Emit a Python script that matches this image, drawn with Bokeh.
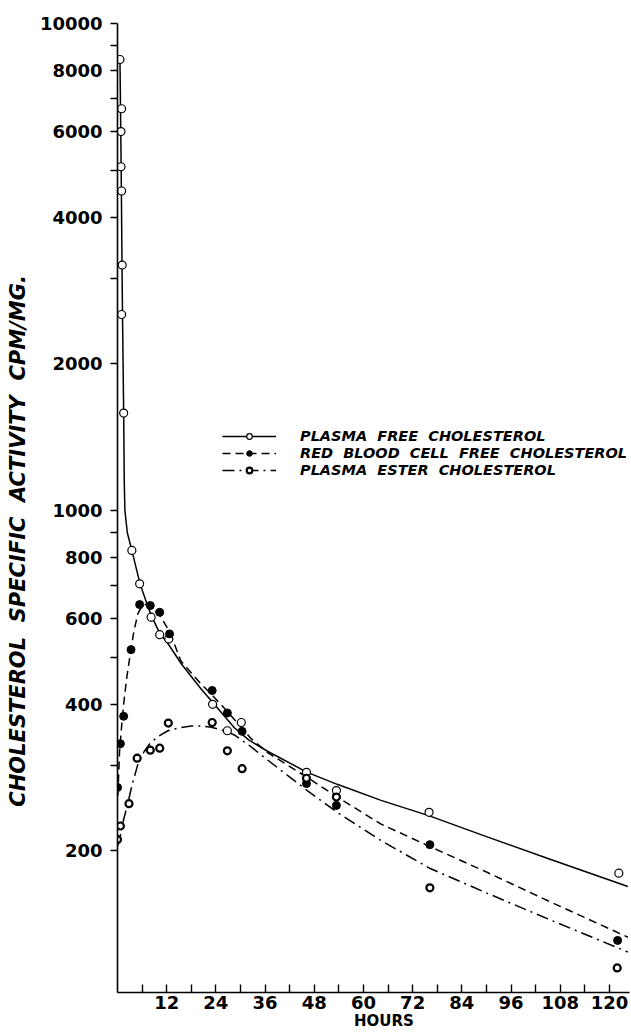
import math
from bokeh.plotting import figure
from bokeh.models import (Range1d, FixedTicker, PrintfTickFormatter,
                          Legend, LegendItem)
from bokeh.embed import file_html
from bokeh.resources import INLINE

# ---------------- data ----------------
x_ticks = [12, 24, 36, 48, 60, 72, 84, 96, 108, 120]
x_minor = [6, 18, 30, 42, 54, 66, 78, 90, 102, 114]
y_ticks = [200, 400, 600, 800, 1000, 2000, 4000, 6000, 8000, 10000]
y_minor = [300, 500, 700, 900, 3000, 5000, 7000, 9000]

# plasma free cholesterol (open circles)
pf_hours = [0.6, 1.0, 0.85, 0.85, 1.0, 1.15, 1.0, 1.5, 3.5, 5.4, 8.2, 10.3,
            12.5, 23.2, 26.8, 30.2, 46.1, 53.4, 76.0, 122.3]
pf_values = [8435, 6683, 6000, 5080, 4530, 3192, 2526, 1585, 828, 707, 604,
             556, 545, 400, 353, 367, 290, 266, 240, 180]

# red blood cell free cholesterol (filled circles)
rbc_hours = [0.0, 0.7, 1.5, 3.3, 5.4, 8.0, 10.3, 12.7, 23.1, 26.8, 30.4,
             46.1, 53.4, 76.2, 122.0]
rbc_values = [270, 332, 378, 518, 641, 638, 618, 558, 427, 384, 352, 275,
              248, 206, 131]

# plasma ester cholesterol (half circles)
pe_hours = [0.0, 0.7, 2.8, 4.8, 8.0, 10.3, 12.4, 23.1, 26.8, 30.4, 46.1,
            53.4, 76.2, 121.9]
pe_values = [211, 225, 250, 310, 322, 325, 366, 367, 321, 295, 282, 258,
             168, 115]

# fitted curves, as drawn
pf_curve_hours = [0.6, 0.8, 0.95, 1.1, 1.25, 1.5, 1.65, 1.8, 2.4, 3.5, 4.5,
                  5.5, 7.0, 8.2, 10.3, 12.5, 15.6, 20.4, 23.3, 28.5, 32.0,
                  36.7, 46.3, 53.6, 64.3, 76.1, 90.0, 105.0, 124.5]
pf_curve_values = [8435, 6000, 4500, 3200, 2400, 1600, 1150, 1000, 900, 828,
                   765, 707, 650, 610, 560, 530, 484, 430, 403, 358, 338,
                   320, 290, 274, 254, 236, 214, 193, 169]

rbc_curve_hours = [0.1, 0.5, 1.0, 1.5, 2.2, 3.0, 4.0, 5.0, 6.0, 7.0, 8.0,
                   10.3, 12.9, 15.4, 20.2, 23.3, 27.0, 32.6, 36.7, 46.3,
                   53.6, 64.3, 76.3, 90.0, 105.0, 124.5]
rbc_curve_values = [260, 320, 360, 400, 450, 500, 565, 615, 638, 642, 635,
                    610, 560, 492, 442, 416, 385, 340, 318, 283, 258, 227,
                    204, 181, 158, 133]

pe_curve_hours = [0.1, 0.6, 1.5, 2.5, 3.5, 5.0, 6.5, 8.0, 10.0, 12.3, 15.0,
                  18.0, 20.4, 22.9, 26.5, 28.5, 32.0, 36.7, 46.3, 53.6, 64.3,
                  76.3, 90.0, 105.0, 124.5]
pe_curve_values = [205, 213, 232, 250, 272, 302, 320, 333, 344, 353, 358,
                   361, 361, 359, 352, 346, 330, 307, 266, 240, 210, 184,
                   164, 145, 124]

labels = ["PLASMA  FREE  CHOLESTEROL",
          "RED  BLOOD  CELL  FREE  CHOLESTEROL",
          "PLASMA  ESTER  CHOLESTEROL"]
y_words = ["CHOLESTEROL", "SPECIFIC", "ACTIVITY", "CPM/MG."]
x_title = "HOURS"

# ---------------- figure ----------------
p = figure(width=631, height=1034, y_axis_type="log",
           x_range=Range1d(0, 124.9), y_range=Range1d(102.4, 10000),
           output_backend="svg", toolbar_location=None,
           min_border_left=117, min_border_right=2,
           min_border_top=23, min_border_bottom=42)
p.outline_line_color = None
p.xgrid.visible = False
p.ygrid.visible = False
p.background_fill_color = "white"
p.border_fill_color = "white"

TICK_FONT = "DejaVu Sans"
for ax in (p.xaxis[0], p.yaxis[0]):
    ax.axis_line_color = "black"
    ax.axis_line_width = 1.6
    ax.major_tick_line_color = "black"
    ax.minor_tick_line_color = "black"
    ax.major_tick_line_width = 1.4
    ax.minor_tick_line_width = 1.4
    ax.major_label_text_font = TICK_FONT
    ax.major_label_text_font_style = "bold"
    ax.major_label_text_font_size = "18px"
    ax.major_label_text_color = "black"
    ax.formatter = PrintfTickFormatter(format="%d")
    ax.axis_label_text_font = TICK_FONT
    ax.axis_label_text_color = "black"

p.xaxis.ticker = FixedTicker(ticks=x_ticks, minor_ticks=x_minor)
p.xaxis.major_tick_in = 8
p.xaxis.major_tick_out = 0
p.xaxis.minor_tick_in = 8
p.xaxis.minor_tick_out = 0
p.xaxis.major_label_standoff = 3
# leading no-break spaces shift the centred title slightly right, as drawn
p.xaxis.axis_label = "\u00a0" * 4 + x_title
p.xaxis.axis_label_text_font_style = "bold"
p.xaxis.axis_label_text_font_size = "15px"
p.xaxis.axis_label_standoff = 0

p.yaxis.ticker = FixedTicker(ticks=y_ticks, minor_ticks=y_minor)
p.yaxis.major_tick_in = 0
p.yaxis.major_tick_out = 7
p.yaxis.minor_tick_in = 0
p.yaxis.minor_tick_out = 7
p.yaxis.major_label_standoff = 8
# wider word gaps, and trailing no-break spaces shift the centred title down
p.yaxis.axis_label = " \u00a0".join(y_words) + "\u00a0" * 9
p.yaxis.axis_label_text_font_style = "bold italic"
p.yaxis.axis_label_text_font_size = "21px"
p.yaxis.axis_label_standoff = 7

# curves
r_pf_line = p.line(pf_curve_hours, pf_curve_values, line_color="black",
                   line_width=1.5)
r_rbc_line = p.line(rbc_curve_hours, rbc_curve_values, line_color="black",
                    line_width=1.5, line_dash="8 5")
r_pe_line = p.line(pe_curve_hours, pe_curve_values, line_color="black",
                   line_width=1.5, line_dash="12 5 2 5")

# points
r_pf_pts = p.scatter(pf_hours, pf_values, marker="circle", size=8,
                     fill_color="white", line_color="black", line_width=1.2)
r_rbc_pts = p.scatter(rbc_hours, rbc_values, marker="circle", size=8,
                      fill_color="black", line_color="black", line_width=1.0)
r_pe_pts = p.scatter(pe_hours, pe_values, marker="circle", size=7,
                     fill_color="white", line_color="black", line_width=2.2)

legend = Legend(items=[
    LegendItem(label=labels[0], renderers=[r_pf_line, r_pf_pts]),
    LegendItem(label=labels[1], renderers=[r_rbc_line, r_rbc_pts]),
    LegendItem(label=labels[2], renderers=[r_pe_line, r_pe_pts]),
], location=(105, 514))
legend.glyph_width = 54
legend.glyph_height = 14
legend.label_height = 14
legend.spacing = 1
legend.padding = 0
legend.margin = 0
legend.label_standoff = 24
legend.border_line_color = None
legend.background_fill_alpha = 0
legend.label_text_font = TICK_FONT
legend.label_text_font_style = "bold italic"
legend.label_text_font_size = "14.5px"
legend.label_text_color = "black"
p.add_layout(legend, "center")

open("out.html", "w").write(file_html(p, INLINE))
